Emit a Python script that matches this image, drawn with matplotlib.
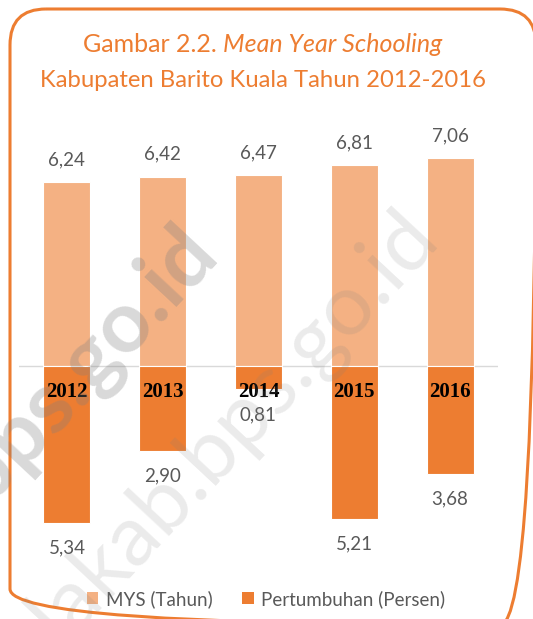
"""Mean Year Schooling chart, Kabupaten Barito Kuala 2012-2016."""

import matplotlib

matplotlib.use("Agg")
import matplotlib.pyplot as plt
from matplotlib.patches import FancyBboxPatch, Patch


years = ["2012", "2013", "2014", "2015", "2016"]
mys = [6.24, 6.42, 6.47, 6.81, 7.06]
growth = [5.34, 2.90, 0.81, 5.21, 3.68]

mys_labels = ["6,24", "6,42", "6,47", "6,81", "7,06"]
growth_labels = ["5,34", "2,90", "0,81", "5,21", "3,68"]

LIGHT = "#F4B183"
DARK = "#ED7D31"
GREY = "#595959"
W, H = 533, 619

plt.rcParams["font.family"] = ["Lato", "DejaVu Sans"]

fig = plt.figure(figsize=(W / 100, H / 100), dpi=100)
ax = fig.add_axes([19 / W, 59 / H, 479 / W, 430 / H])

x = list(range(len(years)))
ax.bar(x, mys, width=0.49, color=LIGHT, edgecolor="white", linewidth=0.8, zorder=2)
ax.bar(x, [-g for g in growth], width=0.49, color=DARK, edgecolor="white", linewidth=0.8, zorder=2)
ax.axhline(0, color="#D9D9D9", linewidth=1.0, zorder=1)
ax.set_xlim(-0.5, 4.5)
ax.set_ylim(-6.6, 8.0)
ax.axis("off")

for xi, v, lab in zip(x, mys, mys_labels):
    ax.annotate(lab, (xi, v), xytext=(0, 16), textcoords="offset points",
                ha="center", va="center", fontsize=13.5, color=GREY)
for xi, g, lab in zip(x, growth, growth_labels):
    ax.annotate(lab, (xi, -g), xytext=(0, -18), textcoords="offset points",
                ha="center", va="center", fontsize=13.5, color=GREY)
for xi, yr in zip(x, years):
    ax.annotate(yr, (xi, 0), xytext=(0, -19), textcoords="offset points",
                ha="center", va="center", fontsize=15, fontweight="bold",
                family="Liberation Serif", color="black", zorder=5)

# overlay in pixel coordinates for frame, title and watermark
ov = fig.add_axes([0, 0, 1, 1], zorder=10)
ov.set_xlim(0, W)
ov.set_ylim(H, 0)
ov.axis("off")
ov.patch.set_alpha(0)

frame = FancyBboxPatch((10, 9), 526, 616, boxstyle="round,pad=0,rounding_size=36",
                       facecolor="none", edgecolor=DARK, linewidth=2.2)
ov.add_patch(frame)

t1 = ov.text(0, 52, "Gambar 2.2. ", fontsize=18, color=DARK, ha="left", va="baseline")
t2 = ov.text(0, 52, "Mean Year Schooling", fontsize=18, color=DARK, style="italic",
             ha="left", va="baseline")
ov.text(263, 87, "Kabupaten Barito Kuala Tahun 2012-2016", fontsize=17.2, color=DARK,
        ha="center", va="baseline")
r = fig.canvas.get_renderer()
w1 = t1.get_window_extent(r).width
w2 = t2.get_window_extent(r).width
x0 = 263 - (w1 + w2) / 2
t1.set_x(x0)
t2.set_x(x0 + w1)

ov.text(440, 238, "baritokualakab.bps.go.id", fontsize=62, color="#808080", alpha=0.16,
        rotation=47, rotation_mode="anchor", ha="right", va="baseline")
ov.text(220, 255, "baritokualakab.bps.go.id", fontsize=62, color="#808080", alpha=0.3,
        rotation=47, rotation_mode="anchor", ha="right", va="baseline", fontweight="bold")

handles = [Patch(facecolor=LIGHT, label="MYS (Tahun)"),
           Patch(facecolor=DARK, label="Pertumbuhan (Persen)")]
fig.legend(handles=handles, loc="center", bbox_to_anchor=(266 / W, 1 - 599 / H), ncol=2,
           frameon=False, fontsize=13.5, labelcolor=GREY, handlelength=0.6, handleheight=0.6,
           handletextpad=0.4, columnspacing=1.6)

fig.savefig("out.png", dpi=100)
